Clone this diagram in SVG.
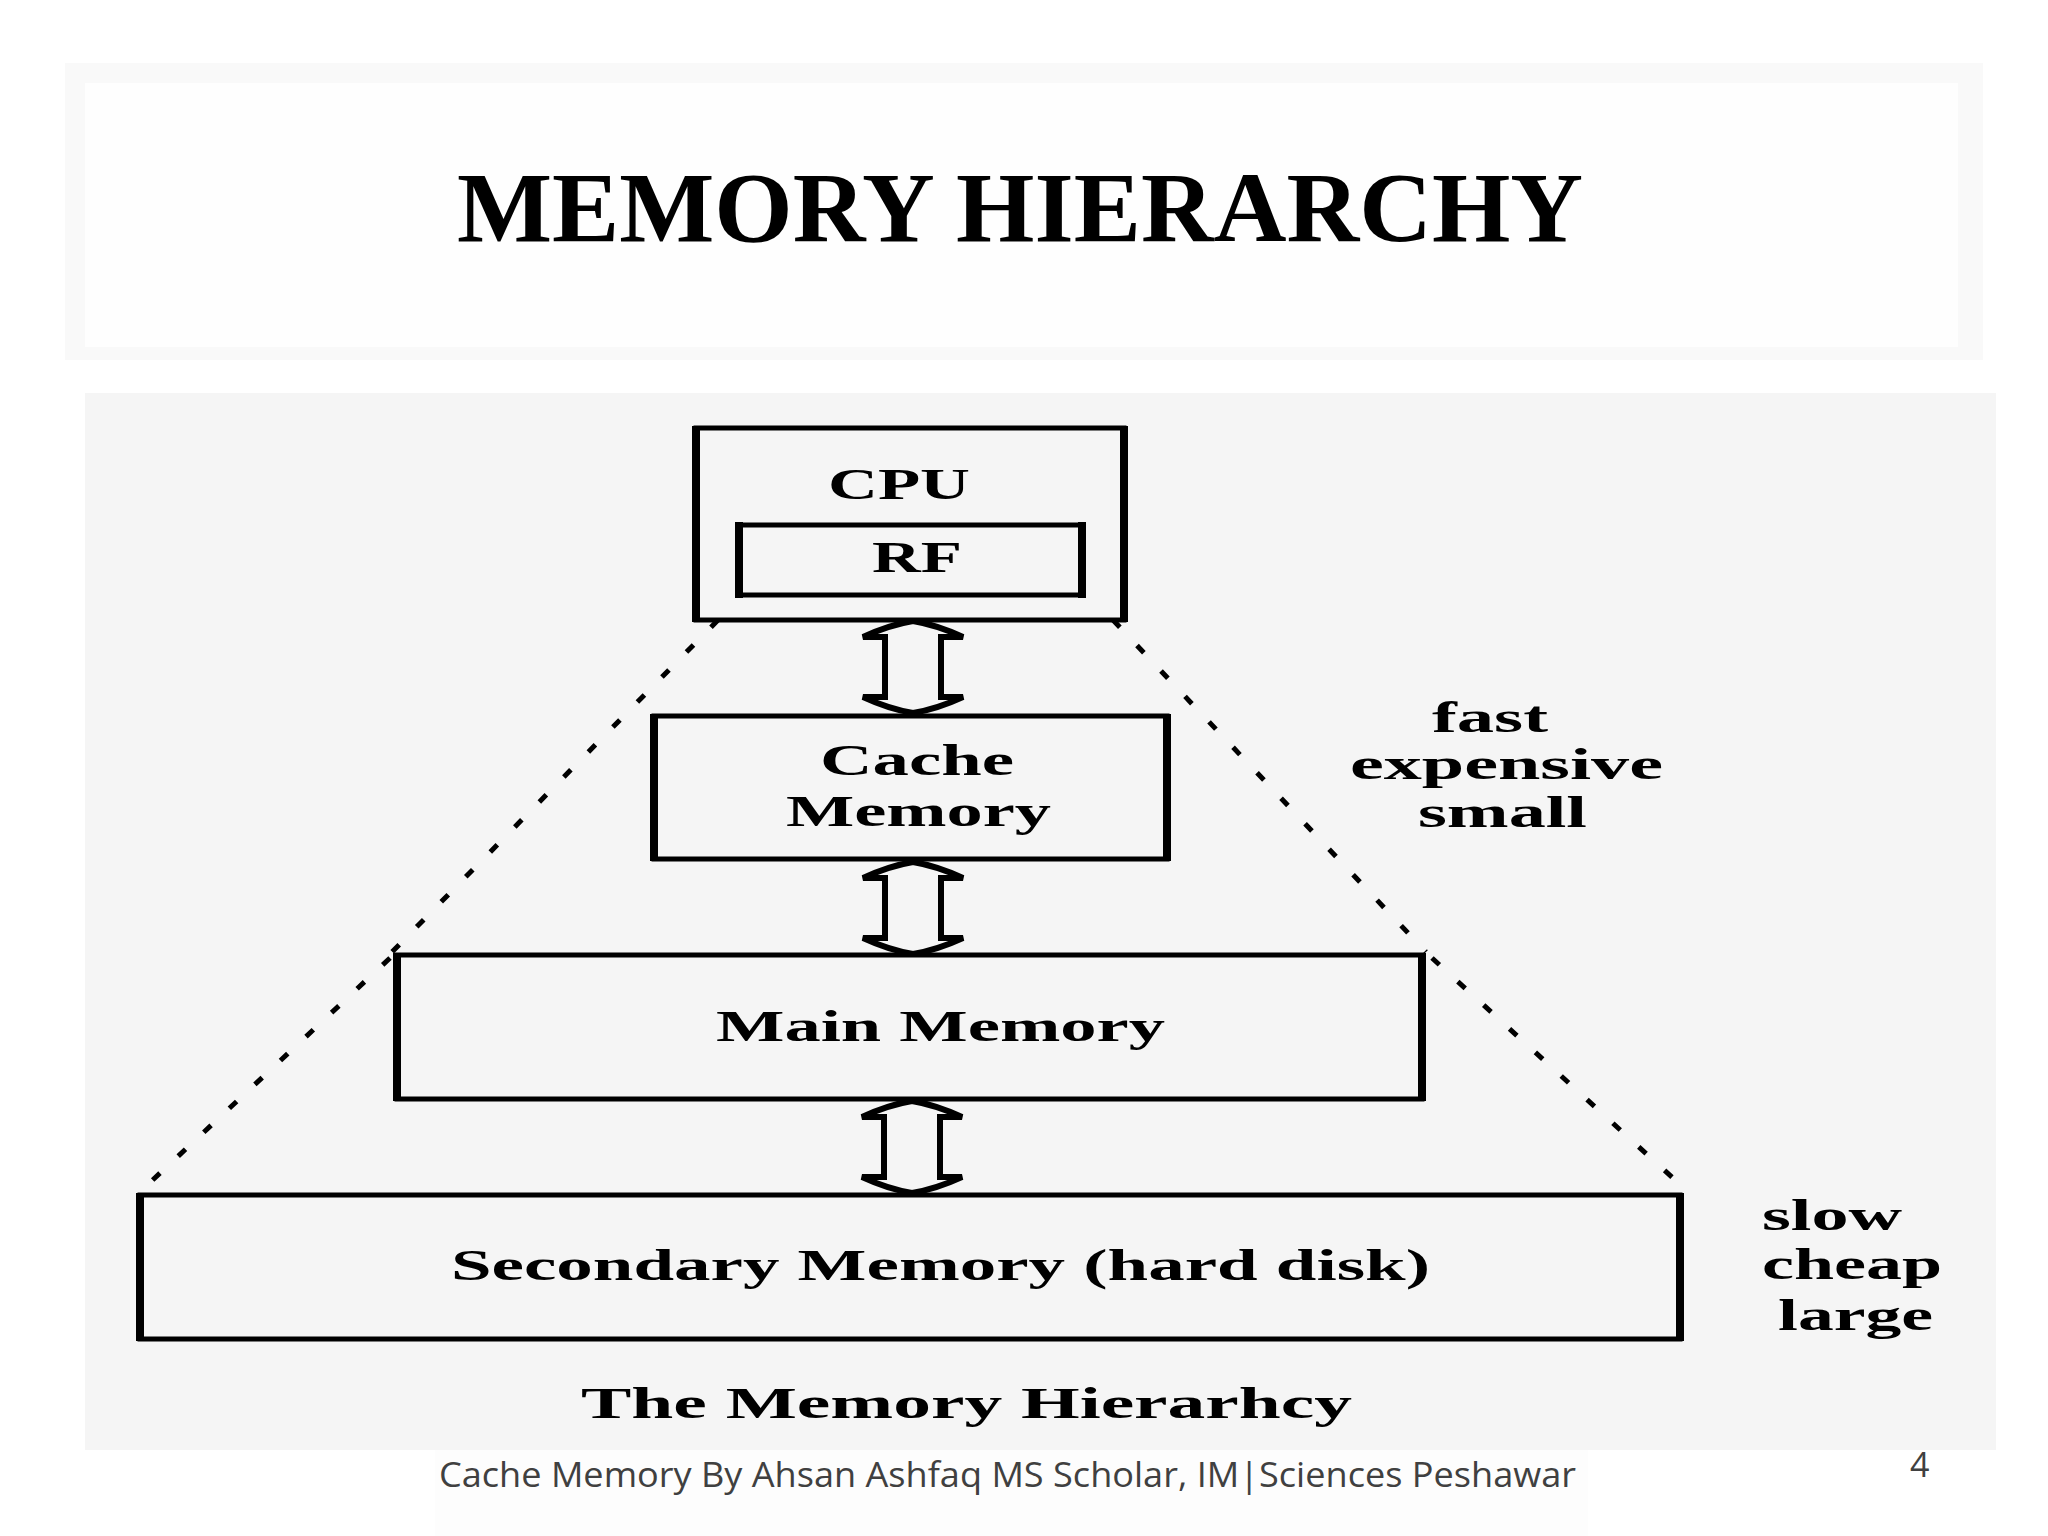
<svg xmlns="http://www.w3.org/2000/svg" width="2048" height="1536" viewBox="0 0 2048 1536">
<defs>
<style>
.box{fill:none;stroke:#000;stroke-width:5}
.side{stroke:#000;stroke-width:8}
.lbl{font-family:"Liberation Serif","Times New Roman",serif;font-weight:bold;fill:#000;font-size:44px}
.dot{fill:none;stroke:#000;stroke-width:5;stroke-dasharray:10 25}
.arr{fill:none;stroke:#000;stroke-width:6;stroke-linejoin:miter}
.foot{font-family:"Open Sans","Liberation Sans",sans-serif;fill:#404040;font-size:34px}
</style>
<path id="dbl" class="arr" d="M-50,16 Q-24,4 0,0 Q24,4 50,16 L28,16 L28,76 L50,76 Q24,88 0,92 Q-24,88 -50,76 L-28,76 L-28,16 Z"/>
</defs>
<rect x="0" y="0" width="2048" height="1536" fill="#ffffff"/>
<rect x="65" y="63" width="1918" height="297" fill="#f9f9f9"/>
<rect x="85" y="83" width="1873" height="264" fill="#fefefe"/>
<text x="457" y="241" font-family="Liberation Serif,'Times New Roman',serif" font-weight="bold" font-size="100" textLength="1126" lengthAdjust="spacingAndGlyphs" fill="#000">MEMORY HIERARCHY</text>
<rect x="85" y="393" width="1911" height="1057" fill="#f5f5f5"/>
<rect x="435" y="1450" width="1153" height="86" fill="#fdfdfd"/>

<g id="connectors">
<line class="dot" x1="718" y1="620" x2="392" y2="952"/>
<line class="dot" x1="390" y1="958" x2="142" y2="1190"/>
<line class="dot" x1="1113" y1="620" x2="1426" y2="952"/>
<line class="dot" x1="1432" y1="958" x2="1686" y2="1190"/>
<use href="#dbl" x="913" y="621"/>
<use href="#dbl" x="913" y="862"/>
<use href="#dbl" x="912" y="1101"/>
</g>

<g id="cpu">
<rect class="box" x="696" y="428" width="428" height="192"/>
<line class="side" x1="696" y1="426" x2="696" y2="622"/>
<line class="side" x1="1124" y1="426" x2="1124" y2="622"/>
<text class="lbl" x="828" y="499" textLength="142" lengthAdjust="spacingAndGlyphs">CPU</text>
</g>
<g id="rf">
<rect class="box" x="739" y="525" width="343" height="70"/>
<line class="side" x1="739" y1="522" x2="739" y2="598"/>
<line class="side" x1="1082" y1="522" x2="1082" y2="598"/>
<text class="lbl" x="872" y="572" textLength="90" lengthAdjust="spacingAndGlyphs">RF</text>
</g>
<g id="cache">
<rect class="box" x="654" y="716" width="513" height="143"/>
<line class="side" x1="654" y1="714" x2="654" y2="861"/>
<line class="side" x1="1167" y1="714" x2="1167" y2="861"/>
<text class="lbl" x="820" y="775" textLength="194" lengthAdjust="spacingAndGlyphs">Cache</text>
<text class="lbl" x="786" y="826" textLength="265" lengthAdjust="spacingAndGlyphs">Memory</text>
</g>
<g id="main">
<rect class="box" x="397" y="955" width="1025" height="144"/>
<line class="side" x1="397" y1="953" x2="397" y2="1101"/>
<line class="side" x1="1422" y1="953" x2="1422" y2="1101"/>
<text class="lbl" x="716" y="1041" textLength="449" lengthAdjust="spacingAndGlyphs">Main Memory</text>
</g>
<g id="secondary">
<rect class="box" x="140" y="1195" width="1540" height="144"/>
<line class="side" x1="140" y1="1193" x2="140" y2="1341"/>
<line class="side" x1="1680" y1="1193" x2="1680" y2="1341"/>
<text class="lbl" x="451" y="1280" textLength="979" lengthAdjust="spacingAndGlyphs">Secondary Memory (hard disk)</text>
</g>
<g id="labels">
<text class="lbl" x="1432" y="732" textLength="116" lengthAdjust="spacingAndGlyphs">fast</text>
<text class="lbl" x="1350" y="779" textLength="313" lengthAdjust="spacingAndGlyphs">expensive</text>
<text class="lbl" x="1418" y="827" textLength="169" lengthAdjust="spacingAndGlyphs">small</text>
<text class="lbl" x="1762" y="1230" textLength="140" lengthAdjust="spacingAndGlyphs">slow</text>
<text class="lbl" x="1762" y="1279" textLength="180" lengthAdjust="spacingAndGlyphs">cheap</text>
<text class="lbl" x="1778" y="1330" textLength="155" lengthAdjust="spacingAndGlyphs">large</text>
<text class="lbl" x="581" y="1418" textLength="771" lengthAdjust="spacingAndGlyphs">The Memory Hierarhcy</text>
</g>
<text class="foot" x="439" y="1487" textLength="1137" lengthAdjust="spacingAndGlyphs">Cache Memory By Ahsan Ashfaq MS Scholar, IM|Sciences Peshawar</text>
<text class="foot" x="1910" y="1477" font-size="30">4</text>
</svg>
